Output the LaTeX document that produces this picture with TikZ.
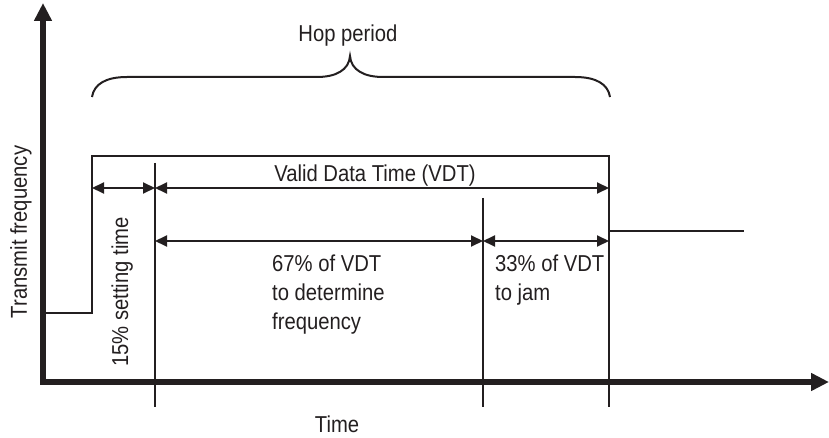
\documentclass[tikz,border=0pt]{standalone}
\usepackage{fontspec}
\setmainfont[FakeStretch=0.88]{Liberation Sans}
\usepackage{xcolor}
\usepackage{tikz}
\usetikzlibrary{arrows.meta, positioning}
\definecolor{ink}{RGB}{35,31,32}

\begin{document}
\begin{tikzpicture}[
  x=1pt, y=-1pt,
  axis/.style={ink, line width=5.5pt, -{Triangle[length=18pt, width=17pt]}},
  signal/.style={ink, line width=2pt},
  marker/.style={ink, line width=2pt},
  dim/.style={ink, line width=2pt, {Triangle[length=12pt, width=11pt]}-{Triangle[length=12pt, width=11pt]}},
  brace/.style={ink, line width=2pt},
  label/.style={ink, inner sep=0pt, font=\fontsize{23}{29}\selectfont},
]
\useasboundingbox (0,0) rectangle (829,438);

\coordinate (origin) at (43,382);
\coordinate (ytip)   at (43,3);
\coordinate (xtip)   at (829,382);
\coordinate (low)    at (43,313);
\coordinate (rise)   at (92,156);
\coordinate (settle) at (155,163);
\coordinate (split)  at (483,198);
\coordinate (drop)   at (609,156);
\coordinate (next)   at (744,231);
\coordinate (row1)   at (0,188);
\coordinate (row2)   at (0,241);
\coordinate (floor)  at (0,407);

\draw[signal] (low) -- (rise |- low) -- (rise) -- (drop) -- (drop |- next) -- (next);
\draw[marker] (settle) -- (settle |- floor);
\draw[marker] (split) -- (split |- floor);
\draw[marker] (drop) -- (drop |- floor);
\draw[axis] ([yshift=-2.75pt]origin) -- (ytip);
\draw[axis] ([xshift=-2.75pt]origin) -- (xtip);

\draw[dim] (rise |- row1) -- (settle |- row1);
\draw[dim] (settle |- row1) -- (drop |- row1);
\draw[dim] (settle |- row2) -- (split |- row2);
\draw[dim] (split |- row2) -- (drop |- row2);

\draw[brace] (92,97) .. controls (94,84) and (106,77) .. (127,77) -- (317,77)
  .. controls (336,77) and (349,70) .. (350,56)
  .. controls (351,70) and (364,77) .. (383,77) -- (575,77)
  .. controls (596,77) and (608,84) .. (610,97);

\node[label, anchor=base] (hop) at (348,42) {Hop period};
\node[label, anchor=base] (vdt) at (375,182) {Valid Data Time (VDT)};
\node[label, anchor=north west, align=left] (determine) at (272,255) {67\% of VDT\\to determine\\frequency};
\node[label, anchor=north west, align=left] (jam) at (495,255) {33\% of VDT\\to jam};
\node[label, anchor=base, rotate=90] (setting) at (128,292) {15\% setting time};
\node[label, anchor=base, rotate=90] (freq) at (27,232) {Transmit frequency};
\node[label, anchor=base] (time) at (337,432) {Time};
\end{tikzpicture}
\end{document}
